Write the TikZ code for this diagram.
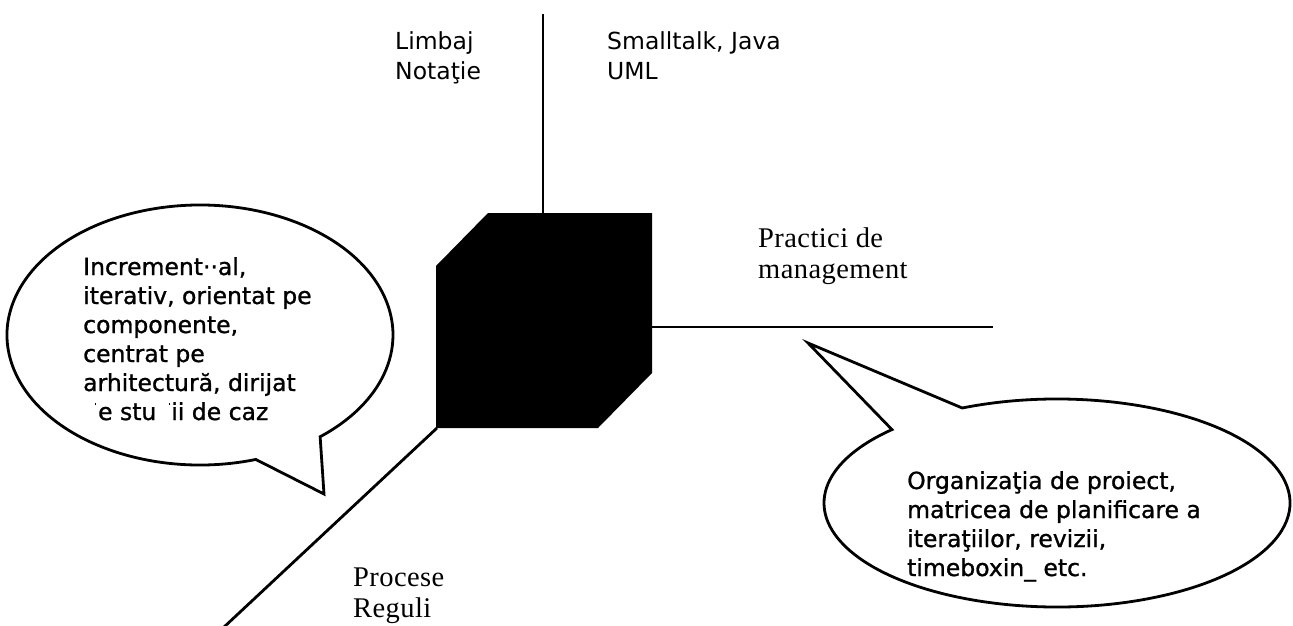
\documentclass[tikz,border=0pt]{standalone}
\usepackage{fontspec}
\setmainfont[LetterSpace=1.5]{Liberation Serif}
\newfontfamily\labelsans{DejaVu Sans}
\newfontfamily\balloonsans[FakeBold=1.1]{DejaVu Sans}
% small ink specks left in the scanned text
\newcommand\inkspeck{\rule[0.62em]{1.6pt}{2.6pt}}
\begin{document}
\begin{tikzpicture}[x=1pt,y=-1pt,
  axis/.style={line width=2.8pt},
  balloon/.style={draw, line width=2.8pt, fill=white, line join=miter},
  % multi-line labels are placed by the baseline of their last line
  sanslabel/.style={anchor=base west, inner sep=0pt, align=left,
    font=\labelsans\fontsize{23.5}{29}\selectfont},
  balloontext/.style={anchor=base west, inner sep=0pt, align=left,
    font=\balloonsans\fontsize{23.5}{29}\selectfont},
  seriflabel/.style={anchor=base west, inner sep=0pt, align=left,
    font=\fontsize{28.5}{31}\selectfont}]
\useasboundingbox (0,0) rectangle (1293,626);

% the black cube
\fill (488,213) -- (652,213) -- (652,373) -- (598,428) -- (436,428) -- (436,266) -- cycle;
\coordinate (cubeTop)   at (543,213);
\coordinate (cubeRight) at (652,327);
\coordinate (cubeLow)   at (437,428);

% free ends of the three axes
\coordinate (axisUp)    at (543,14);
\coordinate (axisRight) at (993,327);
\coordinate (axisDown)  at (223,628);

\draw[axis] (cubeTop) -- (axisUp);
\draw[axis] (cubeRight) -- (axisRight);
\draw[axis] (cubeLow) -- (axisDown);

% speech balloon on the left
\coordinate (leftTip) at (324,494);
\draw[balloon] (200,335) ++(73.2:193 and 130)
  arc[start angle=73.2, end angle=411.5, x radius=193, y radius=130]
  -- (leftTip) -- cycle;

% speech balloon on the right
\coordinate (rightTip) at (808,343);
\draw[balloon] (1057,503) ++(246:233 and 104)
  arc[start angle=246, end angle=584.9, x radius=233, y radius=104]
  -- (rightTip) -- cycle;

% labels
\node[sanslabel] (limbaj) at (395,79) {Limbaj\\Notaţie};
\node[sanslabel] (limbi) at (607,79) {Smalltalk, Java\\UML};
\node[seriflabel] (practici) at (758,278) {Practici de\\management};
\node[seriflabel] (procese) at (353,617) {Procese\\Reguli};

\node[balloontext] (procesText) at (83,420)
  {Increment··al,\\iterativ, orientat pe\\componente,\\centrat pe\\arhitectură, dirijat\\%
   \hphantom{p}\llap{\inkspeck\hspace{2pt}}e stu\hphantom{d}\llap{\inkspeck\hspace{1pt}}ii de caz};
\node[balloontext] (practiciText) at (907,576)
  {Organizaţia de proiect,\\matricea de planificare a\\iteraţiilor, revizii,\\timeboxin\_ etc.};
\end{tikzpicture}
\end{document}
